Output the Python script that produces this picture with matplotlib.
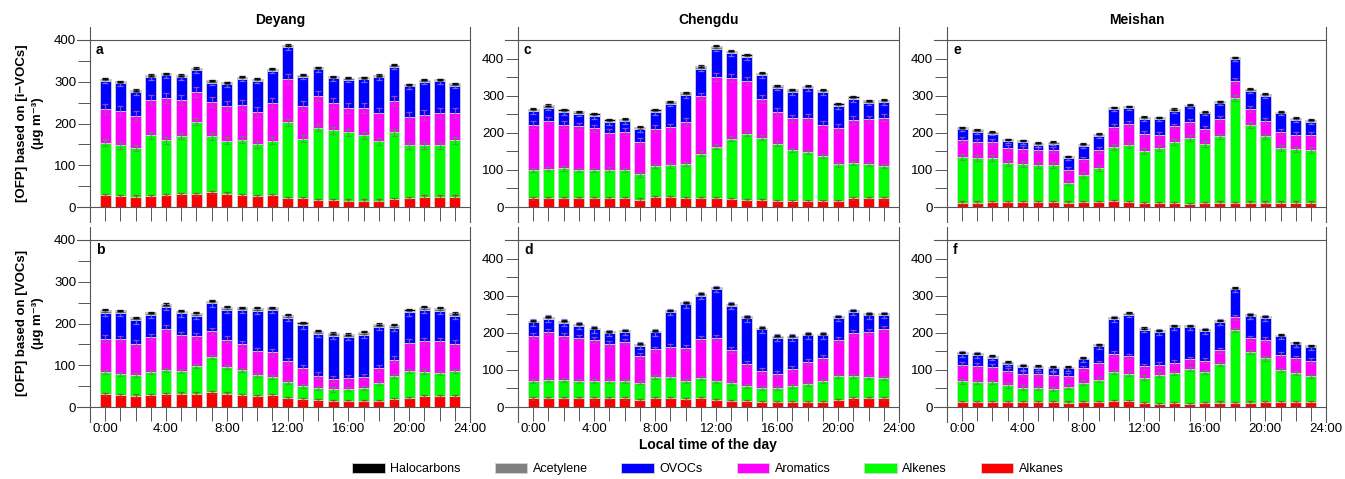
import matplotlib.pyplot as plt
import numpy as np
from matplotlib.patches import Patch

plt.rcParams['font.family'] = ['Liberation Sans', 'DejaVu Sans']

W, H = 1345, 479
hours = list(range(24))
components = ['Alkanes', 'Alkenes', 'Aromatics', 'OVOCs', 'Acetylene', 'Halocarbons']
colors = ['#ff0000', '#00ff00', '#ff00ff', '#0000ff', '#808080', '#000000']
err_colors = ['#a84030', '#4f9a4f', '#b050b0', '#7878ff', '#555555', '#000000']
sites = ['Deyang', 'Chengdu', 'Meishan']

# Deyang, OFP based on i-VOCs (panel a)
a_alkanes = [29, 26, 25, 26, 29, 30, 30, 35, 32, 29, 26, 29, 22, 22, 17, 17, 15, 15, 15, 18, 21, 25, 25, 25]
a_alkenes = [125, 122, 116, 146, 131, 140, 174, 134, 127, 132, 124, 130, 181, 142, 173, 167, 164, 157, 142, 161, 127, 123, 123, 135]
a_aromatics = [81, 83, 77, 84, 101, 87, 71, 82, 84, 83, 77, 90, 103, 79, 75, 65, 59, 65, 68, 74, 67, 72, 77, 66]
a_ovocs = [67, 65, 57, 55, 54, 54, 53, 47, 51, 63, 75, 77, 77, 69, 65, 59, 67, 69, 86, 83, 74, 80, 76, 65]
a_acetylene = [3, 3, 3, 3, 3, 3, 3, 3, 3, 3, 3, 3, 3, 3, 3, 3, 3, 3, 3, 3, 3, 3, 3, 3]
a_halocarbons = [2, 2, 2, 2, 2, 2, 2, 2, 2, 2, 2, 2, 2, 2, 2, 2, 2, 2, 2, 2, 2, 2, 2, 2]
a_err = [3, 8, 12, 6, 1.5, 1.5]

# Deyang, OFP based on VOCs (panel b)
b_alkanes = [30, 28, 27, 28, 30, 32, 32, 35, 32, 28, 26, 28, 21, 18, 16, 14, 14, 14, 14, 18, 21, 26, 26, 26]
b_alkenes = [53, 52, 50, 55, 59, 55, 67, 84, 63, 61, 51, 43, 38, 33, 29, 28, 30, 31, 44, 56, 66, 59, 56, 61]
b_aromatics = [81, 83, 75, 85, 99, 85, 70, 62, 66, 61, 57, 60, 50, 42, 30, 25, 25, 27, 35, 39, 67, 72, 75, 65]
b_ovocs = [62, 62, 56, 52, 52, 52, 50, 67, 72, 82, 97, 101, 105, 103, 101, 103, 99, 101, 99, 77, 73, 76, 74, 66]
b_acetylene = [4, 4, 4, 4, 4, 4, 4, 4, 4, 4, 4, 4, 4, 4, 4, 4, 4, 4, 4, 4, 4, 4, 4, 4]
b_halocarbons = [3, 3, 3, 3, 3, 3, 3, 3, 3, 3, 3, 3, 3, 3, 3, 3, 3, 3, 3, 3, 3, 3, 3, 3]
b_err = [3, 5, 8, 8, 1.5, 1.5]

# Chengdu, i-VOCs (panel c)
c_alkanes = [23, 25, 25, 24, 24, 25, 24, 20, 26, 26, 24, 24, 24, 21, 19, 18, 15, 15, 15, 16, 17, 23, 24, 23]
c_alkenes = [76, 78, 79, 76, 76, 76, 75, 68, 84, 86, 92, 120, 139, 163, 179, 169, 156, 138, 133, 122, 98, 95, 92, 87]
c_aromatics = [123, 130, 118, 117, 112, 99, 104, 88, 101, 103, 113, 154, 187, 164, 141, 104, 85, 86, 93, 84, 98, 117, 120, 131]
c_ovocs = [36, 35, 34, 34, 33, 29, 28, 33, 45, 63, 73, 75, 77, 66, 65, 64, 65, 71, 79, 87, 59, 56, 45, 41]
c_acetylene = [4, 4, 4, 4, 4, 4, 4, 4, 4, 4, 4, 4, 4, 4, 4, 4, 4, 4, 4, 4, 4, 4, 4, 4]
c_halocarbons = [3, 3, 3, 3, 3, 3, 3, 3, 3, 3, 3, 3, 3, 3, 3, 3, 3, 3, 3, 3, 3, 3, 3, 3]
c_err = [3, 6, 10, 7, 1.5, 1.5]

# Chengdu, VOCs (panel d)
d_alkanes = [23, 25, 25, 24, 23, 24, 23, 19, 24, 24, 21, 23, 19, 17, 15, 14, 13, 13, 14, 14, 19, 23, 24, 23]
d_alkenes = [47, 48, 48, 46, 47, 47, 47, 47, 57, 57, 49, 56, 50, 48, 42, 38, 39, 43, 48, 57, 65, 61, 57, 55]
d_aromatics = [121, 130, 118, 115, 111, 99, 104, 72, 74, 82, 90, 105, 116, 88, 60, 44, 36, 47, 59, 60, 97, 116, 120, 131]
d_ovocs = [37, 35, 36, 34, 28, 29, 28, 27, 46, 93, 117, 116, 133, 120, 122, 113, 99, 84, 72, 62, 59, 56, 46, 39]
d_acetylene = [3, 3, 3, 3, 3, 3, 3, 3, 3, 3, 3, 3, 3, 3, 3, 3, 3, 3, 3, 3, 3, 3, 3, 3]
d_halocarbons = [2, 2, 2, 2, 2, 2, 2, 2, 2, 2, 2, 2, 2, 2, 2, 2, 2, 2, 2, 2, 2, 2, 2, 2]
d_err = [3, 5, 8, 9, 1.5, 1.5]

# Meishan, i-VOCs (panel e)
e_alkanes = [12, 12, 14, 13, 13, 13, 13, 12, 13, 14, 16, 14, 10, 10, 11, 9, 10, 12, 10, 12, 12, 12, 12, 12]
e_alkenes = [123, 119, 117, 106, 103, 101, 101, 54, 74, 90, 146, 153, 142, 150, 164, 178, 160, 178, 284, 209, 178, 147, 143, 141]
e_aromatics = [46, 44, 43, 40, 40, 39, 40, 33, 41, 49, 54, 56, 45, 35, 42, 41, 41, 47, 46, 44, 43, 44, 40, 40]
e_ovocs = [28, 28, 24, 19, 19, 15, 17, 33, 36, 39, 48, 44, 41, 42, 42, 43, 41, 43, 59, 48, 67, 49, 39, 37]
e_acetylene = [4, 4, 3, 3, 3, 3, 3, 3, 4, 3, 3, 3, 3, 3, 3, 3, 3, 3, 3, 4, 3, 3, 4, 3]
e_halocarbons = [2, 2, 2, 2, 2, 2, 2, 2, 2, 2, 2, 2, 2, 2, 2, 2, 2, 2, 2, 2, 2, 2, 2, 2]
e_err = [3, 8, 8, 5, 1.5, 1.5]

# Meishan, VOCs (panel f)
f_alkanes = [13, 13, 14, 13, 13, 13, 13, 12, 14, 14, 16, 15, 10, 9, 11, 9, 10, 12, 10, 12, 13, 13, 13, 13]
f_alkenes = [56, 55, 54, 45, 39, 38, 35, 43, 52, 60, 79, 75, 69, 78, 81, 93, 85, 104, 197, 136, 118, 86, 78, 70]
f_aromatics = [45, 43, 41, 40, 38, 37, 39, 29, 38, 44, 48, 47, 31, 26, 27, 26, 30, 37, 35, 37, 50, 42, 40, 41]
f_ovocs = [29, 29, 24, 19, 18, 18, 17, 20, 24, 46, 94, 112, 98, 89, 96, 87, 80, 76, 75, 60, 59, 49, 38, 37]
f_acetylene = [3, 3, 3, 3, 3, 3, 3, 3, 3, 3, 3, 3, 3, 3, 3, 3, 3, 3, 3, 3, 3, 3, 3, 3]
f_halocarbons = [2, 2, 2, 2, 2, 2, 2, 2, 2, 2, 2, 2, 2, 2, 2, 2, 2, 2, 2, 2, 2, 2, 2, 2]
f_err = [3, 6, 7, 7, 1.5, 1.5]

panels = {
    'a': ([a_alkanes, a_alkenes, a_aromatics, a_ovocs, a_acetylene, a_halocarbons], a_err, 400, 0, 0),
    'b': ([b_alkanes, b_alkenes, b_aromatics, b_ovocs, b_acetylene, b_halocarbons], b_err, 400, 1, 0),
    'c': ([c_alkanes, c_alkenes, c_aromatics, c_ovocs, c_acetylene, c_halocarbons], c_err, 450, 0, 1),
    'd': ([d_alkanes, d_alkenes, d_aromatics, d_ovocs, d_acetylene, d_halocarbons], d_err, 450, 1, 1),
    'e': ([e_alkanes, e_alkenes, e_aromatics, e_ovocs, e_acetylene, e_halocarbons], e_err, 450, 0, 2),
    'f': ([f_alkanes, f_alkenes, f_aromatics, f_ovocs, f_acetylene, f_halocarbons], f_err, 450, 1, 2),
}

col_x = [(90, 470), (518, 899), (947, 1326)]
row_y = [(40, 207), (240, 407)]
lc = '#555555'

fig = plt.figure(figsize=(W / 100, H / 100), dpi=100)

for letter, (series, errs, ymax, r, c) in panels.items():
    x0, x1 = col_x[c]
    y0, y1 = row_y[r]
    ax = fig.add_axes([x0 / W, 1 - y1 / H, (x1 - x0) / W, (y1 - y0) / H])
    bottom = np.zeros(len(hours))
    for vals, col, ecol, e in zip(series, colors, err_colors, errs):
        vals = np.array(vals, dtype=float)
        ax.bar(hours, vals, 0.72, bottom=bottom, color=col, edgecolor='#d4d4d4',
               linewidth=0.6, zorder=2)
        bottom = bottom + vals
        ax.errorbar(hours, bottom, yerr=e, fmt='none', ecolor=ecol, elinewidth=0.9,
                    capsize=2.5, capthick=0.9, alpha=0.85, zorder=3)
    ax.set_xlim(-1, 24)
    ax.set_ylim(0, ymax)
    for s in ax.spines.values():
        s.set_visible(False)
    hgt = y1 - y0
    wid = x1 - x0
    for xx in (0, 1):
        ax.plot([xx, xx], [-15 / hgt, 1 + 13 / hgt], transform=ax.transAxes,
                clip_on=False, color=lc, lw=0.8)
    for yy in (0, 1):
        ax.plot([-13 / wid, 1], [yy, yy], transform=ax.transAxes,
                clip_on=False, color=lc, lw=0.8)
    ax.set_xticks(range(0, 25, 4))
    ax.set_xticks(range(0, 25), minor=True)
    ax.set_yticks(range(0, 401, 100))
    ax.set_yticks(range(0, 401, 50), minor=True)
    ax.tick_params(axis='x', which='both', direction='out', length=10, width=0.7,
                   color=lc, pad=1.5, labelsize=9.5)
    ax.tick_params(axis='y', which='both', direction='out', length=9, width=0.7,
                   color=lc, pad=1, labelsize=9.5)
    if r == 1:
        ax.set_xticklabels([f'{h}:00' for h in range(0, 25, 4)])
    else:
        ax.set_xticklabels([])
        ax.text(0.5, 1 + 20 / hgt, sites[c], transform=ax.transAxes, ha='center',
                va='center', fontsize=10, fontweight='bold')
    ax.text(6 / wid, 1 - 10 / hgt, letter, transform=ax.transAxes, ha='left',
            va='center', fontsize=10, fontweight='bold')

fig.text(30 / W, 1 - 123 / H, '[OFP] based on [i\u2212VOCs]\n(\u03bcg m\u207b\u00b3)', rotation=90,
         ha='center', va='center', fontsize=9.5, fontweight='bold', linespacing=1.4)
fig.text(30 / W, 1 - 323 / H, '[OFP] based on [VOCs]\n(\u03bcg m\u207b\u00b3)', rotation=90,
         ha='center', va='center', fontsize=9.5, fontweight='bold', linespacing=1.4)
fig.text(708 / W, 1 - 445 / H, 'Local time of the day', ha='center', va='center',
         fontsize=10, fontweight='bold')

handles = [Patch(facecolor=colors[i], edgecolor='#d4d4d4', linewidth=0.6) for i in range(5, -1, -1)]
labels = [components[i] for i in range(5, -1, -1)]
fig.legend(handles, labels, loc='center', bbox_to_anchor=(708 / W, 1 - 469 / H), ncol=6,
           frameon=False, fontsize=9, handlelength=2.6, handleheight=0.95,
           handletextpad=0.45, columnspacing=2.7)

fig.savefig('out.png', dpi=100)
